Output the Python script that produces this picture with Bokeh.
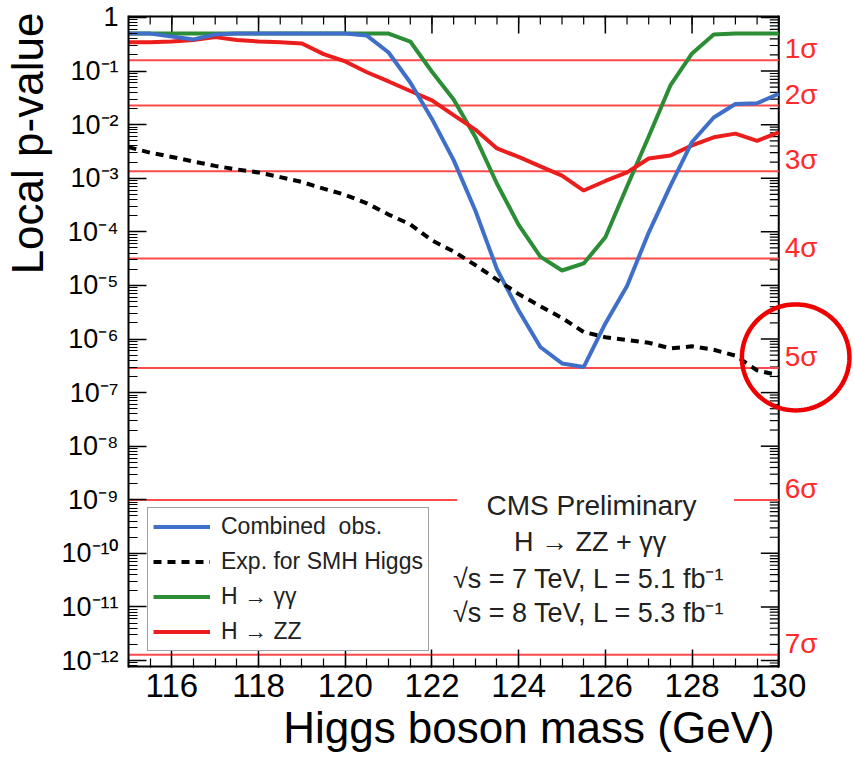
import math
from bokeh.plotting import figure
from bokeh.models import (FixedTicker, BoxAnnotation, Label,
                          PolyAnnotation, Range1d, Legend, LegendItem)
from bokeh.embed import file_html
from bokeh.resources import INLINE

# ---------------- data ----------------
mass = [115.0, 115.5, 116.0, 116.5, 117.0, 117.5, 118.0, 118.5, 119.0, 119.5,
        120.0, 120.5, 121.0, 121.5, 122.0, 122.5, 123.0, 123.5, 124.0, 124.5,
        125.0, 125.5, 126.0, 126.5, 127.0, 127.5, 128.0, 128.5, 129.0, 129.5, 130.0]

combined_obs = [0.5, 0.5, 0.44, 0.39, 0.48, 0.5, 0.5, 0.5, 0.5, 0.5,
                0.5, 0.46, 0.222, 0.0612, 0.0128, 0.00218, 2.5e-4, 2.0e-5, 3.4e-6, 7.1e-7,
                3.5e-7, 3.0e-7, 1.95e-6, 9.8e-6, 9.7e-5, 7.2e-4, 4.75e-3, 0.0136, 0.0243, 0.0251, 0.0377]

expected_smh = [0.0038, 0.0030, 0.0025, 0.00205, 0.0017, 0.00146, 0.00128, 0.00105, 8.5e-4, 6.4e-4,
                4.9e-4, 3.4e-4, 2.1e-4, 1.38e-4, 6.9e-5, 4.3e-5, 2.4e-5, 1.28e-5, 6.9e-6, 4.1e-6,
                2.47e-6, 1.35e-6, 1.08e-6, 9.6e-7, 8.5e-7, 6.7e-7, 7.3e-7, 6.3e-7, 4.9e-7, 2.6e-7, 2.1e-7]

h_gamgam = [0.5, 0.5, 0.5, 0.5, 0.5, 0.5, 0.5, 0.5, 0.5, 0.5,
            0.5, 0.5, 0.5, 0.356, 0.097, 0.0295, 0.0059, 7.9e-4, 1.35e-4, 3.45e-5,
            1.9e-5, 2.57e-5, 7.9e-5, 7.0e-4, 6.0e-3, 0.054, 0.213, 0.48, 0.5, 0.5, 0.5]

h_zz = [0.346, 0.346, 0.357, 0.38, 0.43, 0.38, 0.357, 0.346, 0.327, 0.207,
        0.151, 0.095, 0.064, 0.0425, 0.0283, 0.0151, 0.0081, 0.0036, 0.0025, 0.00166,
        0.00112, 5.9e-4, 8.9e-4, 0.00129, 0.00234, 0.00266, 0.0041, 0.0058, 0.0068, 0.0050, 0.0072]

sigma_labels = ["1σ", "2σ", "3σ", "4σ", "5σ", "6σ", "7σ"]
sigma_pvalues = [1.587e-1, 2.275e-2, 1.350e-3, 3.167e-5, 2.867e-7, 9.866e-10, 1.280e-12]

x_ticks = [116, 118, 120, 122, 124, 126, 128, 130]
x_minor_ticks = [115 + 0.5 * i for i in range(31)]
y_ticks = [1.0, 1e-1, 1e-2, 1e-3, 1e-4, 1e-5, 1e-6, 1e-7, 1e-8, 1e-9, 1e-10, 1e-11, 1e-12]
y_tick_labels = ["1", "10⁻¹", "10⁻²", "10⁻³", "10⁻⁴", "10⁻⁵", "10⁻⁶", "10⁻⁷",
                 "10⁻⁸", "10⁻⁹", "10⁻¹⁰", "10⁻¹¹", "10⁻¹²"]
y_minor_ticks = [m * 10.0 ** (-k) for k in range(1, 14) for m in range(2, 10)]

legend_labels = ["Combined  obs.", "Exp. for SMH Higgs", "H → γγ", "H → ZZ"]
cms_lines = ["CMS Preliminary", "H → ZZ + γγ",
             "√s = 7 TeV, L = 5.1 fb⁻¹", "√s = 8 TeV, L = 5.3 fb⁻¹"]
x_title = "Higgs boson mass (GeV)"
y_title = "Local p-value"

# ---------------- style ----------------
FONT = "Liberation Sans"
BLUE = "#3f6fc8"
GREEN = "#2b8d35"
RED = "#ec1d1d"
SIGRED = "#ff4a4a"

X0, X1 = 115.0, 130.0            # the drawn plot box
PX_PER_GEV = 43.53
PX_PER_DEC = 53.6
X_CANVAS_END = X0 + 729 / PX_PER_GEV   # frame runs to the canvas edge so the 5σ ring fits
Y0, Y1 = 10 ** -12.13, 10 ** 0.037

p = figure(width=854, height=764, x_range=Range1d(X0, X_CANVAS_END),
           y_range=Range1d(Y0, Y1), y_axis_type="log",
           output_backend="svg", toolbar_location=None,
           min_border_left=125, min_border_right=0, min_border_top=15, min_border_bottom=97)
p.grid.visible = False
p.outline_line_color = None
p.background_fill_color = "white"
p.border_fill_color = "white"

x_ticker = FixedTicker(ticks=x_ticks, minor_ticks=x_minor_ticks)
y_ticker = FixedTicker(ticks=y_ticks, minor_ticks=y_minor_ticks)


def style_axis(ax):
    ax.axis_line_color = "black"
    ax.axis_line_width = 2
    ax.major_tick_in = 18
    ax.major_tick_out = 0
    ax.minor_tick_in = 9
    ax.minor_tick_out = 0
    ax.major_tick_line_color = "black"
    ax.minor_tick_line_color = "black"
    ax.major_tick_line_width = 1.5
    ax.minor_tick_line_width = 1.2
    ax.major_label_text_font = FONT
    ax.major_label_text_color = "black"
    ax.axis_label_text_font = FONT
    ax.axis_label_text_font_style = "normal"
    ax.axis_label_text_color = "black"
    ax.axis_label_text_font_size = "44px"


xa = p.xaxis[0]
xa.ticker = x_ticker
style_axis(xa)
xa.axis_line_color = None
xa.major_label_text_font_size = "33px"
xa.major_label_standoff = 6
# leading em/en spaces shift the centred title so that it ends near 130 GeV (ROOT style)
xa.axis_label = "\u2003\u2002\u2009" + x_title
xa.axis_label_align = "center"
xa.axis_label_standoff = 3

ya = p.yaxis[0]
ya.ticker = y_ticker
style_axis(ya)
ya.major_label_text_font_size = "27px"
ya.major_label_standoff = 10
ya.major_label_overrides = {v: t for v, t in zip(y_ticks, y_tick_labels)}
# leading em spaces push the centred title up to the top of the axis (ROOT style)
ya.axis_label = "\u2003" * 9 + y_title
ya.axis_label_align = "center"
ya.axis_label_standoff = 6

# plot box edges (bottom, top, right)
p.segment(x0=[X0, X0], x1=[X1, X1], y0=[Y0, Y1], y1=[Y0, Y1], line_color="black", line_width=4)
p.segment(x0=[X1], x1=[X1], y0=[Y0], y1=[Y1], line_color="black", line_width=2)

# mirrored ticks on the top and right box edges (ROOT style)
maj_dx, min_dx = 18 / PX_PER_GEV, 9 / PX_PER_GEV
maj_fy, min_fy = 10 ** (-18 / PX_PER_DEC), 10 ** (-9 / PX_PER_DEC)
ry_major = [v for v in y_ticks if Y0 <= v <= Y1]
ry_minor = [v for v in y_minor_ticks if Y0 <= v <= Y1]
p.segment(x0=[X1] * len(ry_major), x1=[X1 - maj_dx] * len(ry_major), y0=ry_major, y1=ry_major,
          line_color="black", line_width=1.5)
p.segment(x0=[X1] * len(ry_minor), x1=[X1 - min_dx] * len(ry_minor), y0=ry_minor, y1=ry_minor,
          line_color="black", line_width=1.2)
p.segment(x0=x_ticks, x1=x_ticks, y0=[Y1] * len(x_ticks), y1=[Y1 * maj_fy] * len(x_ticks),
          line_color="black", line_width=1.5)
p.segment(x0=x_minor_ticks, x1=x_minor_ticks, y0=[Y1] * len(x_minor_ticks),
          y1=[Y1 * min_fy] * len(x_minor_ticks), line_color="black", line_width=1.2)

# sigma reference lines
p.segment(x0=[X0] * len(sigma_pvalues), x1=[X1] * len(sigma_pvalues),
          y0=sigma_pvalues, y1=sigma_pvalues, line_color=SIGRED, line_width=2)

# sigma labels just right of the box, sitting slightly above their lines
p.text(x=[X1] * len(sigma_pvalues), y=[v * 10 ** (-4 / PX_PER_DEC) for v in sigma_pvalues],
       text=sigma_labels, x_offset=6, text_align="left", text_baseline="bottom",
       text_font={"value": FONT}, text_font_size="28px", text_color="#ff2a2a")

# curves
r_gg = p.line(mass, h_gamgam, line_color=GREEN, line_width=4)
r_zz = p.line(mass, h_zz, line_color=RED, line_width=4)
r_comb = p.line(mass, combined_obs, line_color=BLUE, line_width=4)
r_exp = p.line(mass, expected_smh, line_color="black", line_width=4, line_dash="8 6")

# white pave behind CMS text
p.add_layout(BoxAnnotation(left=122.58, right=128.97, top=10 ** -8.73, bottom=10 ** -11.77,
                           fill_color="white", fill_alpha=1.0, line_alpha=0))

# red ring around 5 sigma
ts = [2 * math.pi * i / 120 for i in range(121)]
circ_x = [130.39 + (54 / PX_PER_GEV) * math.cos(t) for t in ts]
circ_y = [10 ** (-6.343 + (53 / PX_PER_DEC) * math.sin(t)) for t in ts]
p.add_layout(PolyAnnotation(xs=circ_x, ys=circ_y, fill_alpha=0, line_color="#ee0000",
                            line_alpha=1.0, line_width=4.5))

# CMS text block
cms_pos = [(125.68, 10 ** -9.10, "28px"), (125.65, 10 ** -9.78, "27px"),
           (125.62, 10 ** -10.47, "27px"), (125.62, 10 ** -11.12, "27px")]
for txt, (cx, cy, fs) in zip(cms_lines, cms_pos):
    p.add_layout(Label(x=cx, y=cy, text=txt, text_align="center", text_baseline="middle",
                       text_font=FONT, text_font_size=fs, text_color="#222222"))

legend = Legend(items=[LegendItem(label=legend_labels[0], renderers=[r_comb]),
                       LegendItem(label=legend_labels[1], renderers=[r_exp]),
                       LegendItem(label=legend_labels[2], renderers=[r_gg]),
                       LegendItem(label=legend_labels[3], renderers=[r_zz])],
                location=(19, 16))
legend.label_text_font = FONT
legend.label_text_font_size = "23px"
legend.label_text_color = "#222222"
legend.glyph_width = 57
legend.glyph_height = 25
legend.label_height = 25
legend.label_standoff = 11
legend.spacing = 8
legend.padding = 5
legend.margin = 0
legend.border_line_color = "#444444"
legend.border_line_width = 1.5
legend.background_fill_color = "white"
legend.background_fill_alpha = 1.0
p.add_layout(legend)

open("out.html", "w").write(file_html(p, INLINE))
